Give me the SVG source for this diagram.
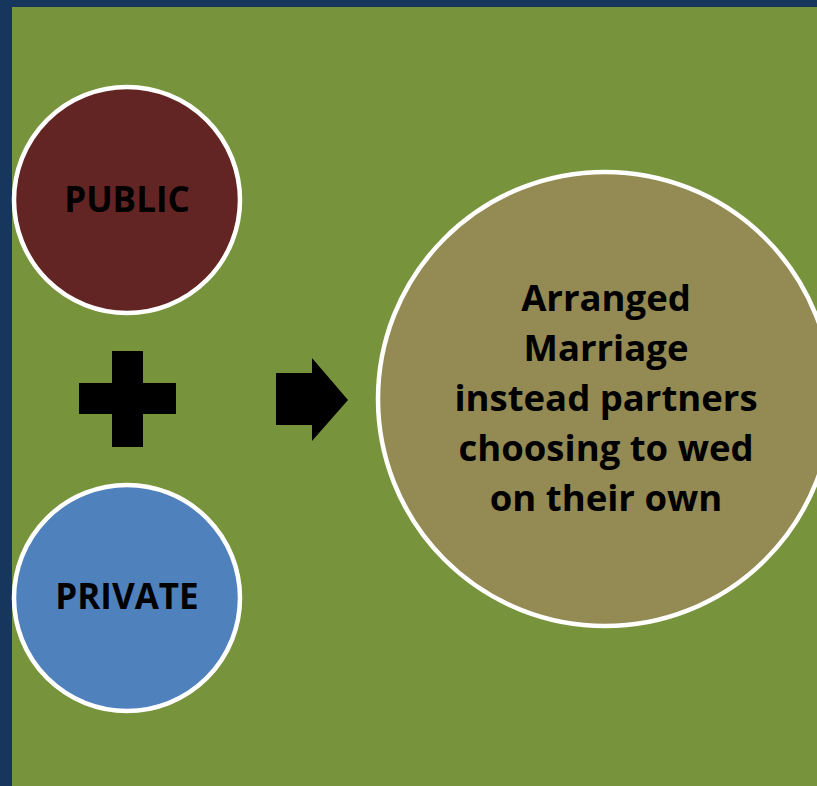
<svg xmlns="http://www.w3.org/2000/svg" width="817" height="786" viewBox="0 0 817 786">
<style>
.c{stroke:#fff;stroke-width:4.5}
.t{font-family:"Open Sans","Liberation Sans",sans-serif;font-weight:bold;fill:#000;text-anchor:middle}
</style>
<rect x="0" y="0" width="817" height="786" fill="#17365D"/>
<rect x="12" y="7" width="805" height="779" fill="#77933C"/>
<g id="public"><circle class="c" cx="127" cy="200" r="113" fill="#632523"/><text class="t" x="127" y="212" font-size="35">PUBLIC</text></g>
<g id="private"><circle class="c" cx="127" cy="598" r="113" fill="#4F81BD"/><text class="t" x="127" y="609" font-size="35">PRIVATE</text></g>
<g id="plus"><path d="M112 351H143V383H176V414H143V447H112V414H79V383H112Z" fill="#000"/></g>
<g id="connectors"><path d="M276 373H312V358L348 400L312 441V425H276Z" fill="#000"/></g>
<g id="result"><circle class="c" cx="605" cy="399" r="227" fill="#948A54"/>
<text class="t" font-size="36.5"><tspan x="606" y="311">Arranged</tspan><tspan x="606" y="361">Marriage</tspan><tspan x="606" y="411">instead partners</tspan><tspan x="606" y="461">choosing to wed</tspan><tspan x="606" y="511">on their own</tspan></text></g>
</svg>
